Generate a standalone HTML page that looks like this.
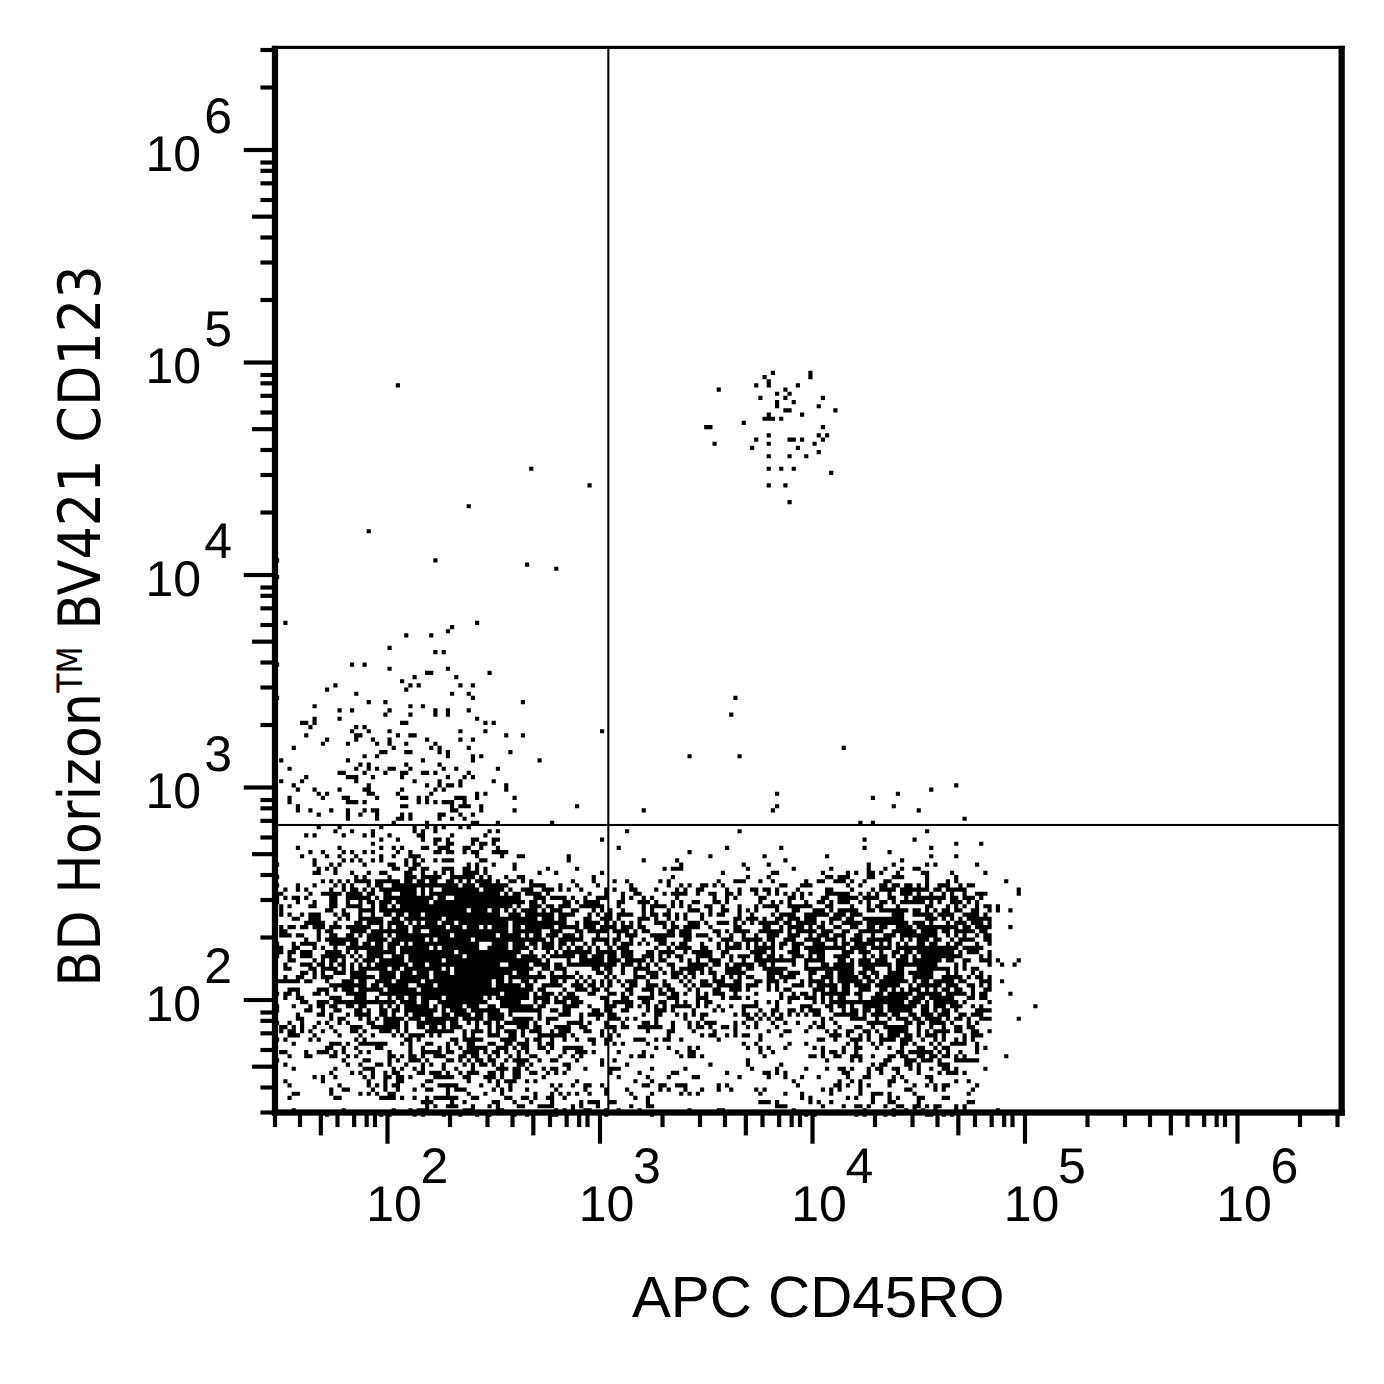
<!DOCTYPE html>
<html lang="en">
<head>
<meta charset="utf-8">
<title>BD Horizon BV421 CD123 vs APC CD45RO</title>
<style>
html,body{margin:0;padding:0;background:#fff;}
body{width:1384px;height:1384px;overflow:hidden;}
svg{display:block;}
text{text-rendering:geometricPrecision;}
.tl text{font-family:"Liberation Sans",Arial,Helvetica,sans-serif;font-size:50px;fill:#000;}
.xt{font-family:"Liberation Sans",Arial,Helvetica,sans-serif;font-size:58.33px;fill:#000;}
.yt{font-family:"DejaVu Sans Condensed","DejaVu Sans",Verdana,sans-serif;font-stretch:condensed;font-size:58.33px;fill:#000;}
</style>
</head>
<body>
<svg width="1384" height="1384" viewBox="0 0 1384 1384">
<rect width="1384" height="1384" fill="#fff"/>
<g transform="scale(4.166667)" fill="#000"><path d="M185 89h1v1h-1zM194 89h1v1h-1zM183 90h1v1h-1zM194 90h1v1h-1zM184 91h1v1h-1zM95 92h1v1h-1zM181 92h1v1h-1zM184 92h1v1h-1zM191 92h1v1h-1zM172 93h1v1h-1zM188 93h1v1h-1zM186 94h1v1h-1zM189 94h1v1h-1zM182 95h1v1h-1zM188 95h1v1h-1zM197 95h1v1h-1zM186 96h1v1h-1zM190 96h1v1h-1zM186 97h1v1h-1zM196 97h1v1h-1zM188 98h2v1h-2zM200 98h1v1h-1zM184 99h1v1h-1zM192 99h1v1h-1zM183 100h3v1h-3zM187 100h1v1h-1zM178 101h1v1h-1zM169 102h2v1h-2zM197 102h1v1h-1zM184 104h1v1h-1zM196 104h1v1h-1zM198 104h1v1h-1zM181 105h1v1h-1zM189 105h2v1h-2zM192 105h1v1h-1zM197 105h1v1h-1zM171 106h1v1h-1zM184 106h1v1h-1zM195 106h1v1h-1zM180 107h1v1h-1zM191 107h1v1h-1zM196 108h1v1h-1zM184 109h1v1h-1zM189 109h1v1h-1zM193 109h1v1h-1zM127 112h1v1h-1zM184 112h1v1h-1zM187 112h1v1h-1zM190 112h1v1h-1zM199 113h1v1h-1zM141 116h1v1h-1zM184 116h1v1h-1zM188 116h1v1h-1zM189 120h1v1h-1zM112 121h1v1h-1zM88 127h1v1h-1zM66 134h1v1h-1zM104 134h1v1h-1zM126 135h1v1h-1zM133 136h1v1h-1zM66 138h1v1h-1zM68 149h1v1h-1zM114 149h1v1h-1zM108 150h1v1h-1zM107 151h1v1h-1zM97 152h1v1h-1zM103 152h1v1h-1zM93 155h1v1h-1zM104 156h1v1h-1zM106 156h1v1h-1zM66 159h1v1h-1zM84 159h1v1h-1zM87 159h1v1h-1zM93 160h1v1h-1zM107 160h1v1h-1zM102 161h2v1h-2zM117 161h1v1h-1zM99 162h1v1h-1zM109 162h1v1h-1zM96 163h1v1h-1zM80 164h1v1h-1zM98 164h1v1h-1zM100 164h1v1h-1zM110 164h1v1h-1zM113 164h1v1h-1zM78 165h1v1h-1zM97 165h1v1h-1zM85 166h1v1h-1zM108 166h1v1h-1zM112 166h1v1h-1zM66 167h1v1h-1zM113 167h1v1h-1zM176 167h1v1h-1zM88 168h1v1h-1zM92 168h1v1h-1zM125 168h1v1h-1zM75 169h1v1h-1zM98 169h1v1h-1zM101 169h1v1h-1zM81 170h1v1h-1zM84 170h1v1h-1zM93 170h1v1h-1zM104 170h1v1h-1zM107 170h1v1h-1zM112 170h1v1h-1zM92 171h1v1h-1zM98 171h1v1h-1zM104 171h1v1h-1zM107 171h1v1h-1zM175 171h1v1h-1zM75 172h1v1h-1zM81 172h1v1h-1zM114 172h1v1h-1zM72 173h2v1h-2zM75 173h1v1h-1zM96 173h2v1h-2zM116 173h1v1h-1zM118 173h1v1h-1zM74 174h1v1h-1zM85 174h1v1h-1zM87 174h1v1h-1zM84 175h1v1h-1zM88 175h1v1h-1zM93 175h1v1h-1zM110 175h1v1h-1zM116 175h1v1h-1zM144 175h1v1h-1zM73 176h1v1h-1zM85 176h2v1h-2zM95 176h1v1h-1zM98 176h2v1h-2zM121 176h1v1h-1zM125 176h1v1h-1zM78 177h1v1h-1zM85 177h1v1h-1zM89 177h1v1h-1zM93 177h1v1h-1zM102 177h1v1h-1zM110 177h1v1h-1zM113 177h1v1h-1zM77 178h1v1h-1zM83 178h1v1h-1zM90 178h1v1h-1zM93 178h1v1h-1zM97 178h1v1h-1zM104 178h1v1h-1zM70 179h1v1h-1zM94 179h1v1h-1zM103 179h1v1h-1zM105 179h1v1h-1zM112 179h1v1h-1zM202 179h1v1h-1zM91 180h2v1h-2zM97 180h2v1h-2zM105 180h1v1h-1zM107 180h1v1h-1zM122 180h1v1h-1zM87 181h1v1h-1zM90 181h1v1h-1zM107 181h1v1h-1zM113 181h1v1h-1zM115 181h1v1h-1zM165 181h1v1h-1zM177 181h1v1h-1zM67 182h1v1h-1zM83 182h1v1h-1zM101 182h1v1h-1zM113 182h1v1h-1zM129 182h1v1h-1zM86 183h1v1h-1zM88 183h1v1h-1zM97 183h1v1h-1zM105 183h1v1h-1zM69 184h1v1h-1zM85 184h1v1h-1zM88 184h1v1h-1zM90 184h1v1h-1zM93 184h2v1h-2zM98 184h1v1h-1zM106 184h1v1h-1zM109 184h1v1h-1zM119 184h1v1h-1zM81 185h2v1h-2zM87 185h1v1h-1zM92 185h1v1h-1zM96 185h2v1h-2zM101 185h2v1h-2zM104 185h1v1h-1zM112 185h1v1h-1zM73 186h1v1h-1zM83 186h3v1h-3zM89 186h1v1h-1zM96 186h1v1h-1zM107 186h1v1h-1zM111 186h1v1h-1zM113 186h1v1h-1zM67 187h1v1h-1zM72 187h1v1h-1zM85 187h1v1h-1zM99 187h1v1h-1zM105 187h1v1h-1zM110 187h1v1h-1zM118 187h1v1h-1zM70 188h1v1h-1zM88 188h1v1h-1zM102 188h1v1h-1zM105 188h1v1h-1zM107 188h2v1h-2zM110 188h1v1h-1zM121 188h1v1h-1zM229 188h1v1h-1zM71 189h1v1h-1zM75 189h1v1h-1zM81 189h1v1h-1zM87 189h2v1h-2zM96 189h1v1h-1zM104 189h1v1h-1zM106 189h1v1h-1zM121 189h1v1h-1zM223 189h1v1h-1zM76 190h1v1h-1zM78 190h1v1h-1zM88 190h2v1h-2zM95 190h1v1h-1zM103 190h1v1h-1zM114 190h1v1h-1zM116 190h1v1h-1zM186 190h1v1h-1zM215 190h1v1h-1zM69 191h1v1h-1zM77 191h1v1h-1zM82 191h2v1h-2zM90 191h1v1h-1zM96 191h2v1h-2zM100 191h1v1h-1zM102 191h1v1h-1zM109 191h3v1h-3zM114 191h1v1h-1zM123 191h1v1h-1zM209 191h1v1h-1zM69 192h1v1h-1zM83 192h3v1h-3zM87 192h1v1h-1zM100 192h1v1h-1zM102 192h1v1h-1zM104 192h1v1h-1zM106 192h3v1h-3zM111 192h1v1h-1zM71 193h1v1h-1zM96 193h2v1h-2zM108 193h1v1h-1zM110 193h3v1h-3zM115 193h1v1h-1zM138 193h1v1h-1zM186 193h1v1h-1zM214 193h1v1h-1zM71 194h1v1h-1zM74 194h1v1h-1zM79 194h1v1h-1zM83 194h1v1h-1zM87 194h1v1h-1zM89 194h2v1h-2zM108 194h2v1h-2zM115 194h1v1h-1zM123 194h1v1h-1zM154 194h1v1h-1zM185 194h1v1h-1zM220 194h1v1h-1zM76 195h1v1h-1zM83 195h1v1h-1zM86 195h1v1h-1zM90 195h1v1h-1zM96 195h1v1h-1zM98 195h1v1h-1zM105 195h2v1h-2zM110 195h1v1h-1zM113 195h1v1h-1zM83 196h1v1h-1zM90 196h1v1h-1zM95 196h2v1h-2zM98 196h1v1h-1zM105 196h1v1h-1zM108 196h1v1h-1zM111 196h1v1h-1zM231 196h1v1h-1zM94 197h1v1h-1zM102 197h1v1h-1zM113 197h2v1h-2zM119 197h1v1h-1zM132 197h1v1h-1zM206 197h1v1h-1zM209 197h1v1h-1zM76 198h1v1h-1zM81 198h1v1h-1zM91 198h1v1h-1zM99 198h1v1h-1zM102 198h1v1h-1zM104 198h1v1h-1zM106 198h1v1h-1zM110 198h1v1h-1zM112 198h1v1h-1zM80 199h1v1h-1zM84 199h1v1h-1zM89 199h1v1h-1zM99 199h1v1h-1zM101 199h1v1h-1zM104 199h1v1h-1zM117 199h1v1h-1zM119 199h1v1h-1zM150 199h1v1h-1zM177 199h1v1h-1zM222 199h1v1h-1zM73 200h1v1h-1zM75 200h1v1h-1zM82 200h1v1h-1zM87 200h1v1h-1zM89 200h1v1h-1zM93 200h1v1h-1zM100 200h2v1h-2zM108 200h1v1h-1zM116 200h1v1h-1zM91 201h1v1h-1zM95 201h1v1h-1zM101 201h1v1h-1zM104 201h2v1h-2zM107 201h1v1h-1zM113 201h2v1h-2zM118 201h2v1h-2zM144 201h1v1h-1zM207 201h1v1h-1zM219 201h1v1h-1zM89 202h1v1h-1zM104 202h1v1h-1zM107 202h2v1h-2zM113 202h1v1h-1zM115 202h2v1h-2zM118 202h1v1h-1zM229 202h1v1h-1zM235 202h1v1h-1zM71 203h1v1h-1zM81 203h1v1h-1zM91 203h1v1h-1zM94 203h1v1h-1zM96 203h1v1h-1zM101 203h2v1h-2zM105 203h3v1h-3zM111 203h2v1h-2zM115 203h1v1h-1zM119 203h1v1h-1zM148 203h1v1h-1zM174 203h1v1h-1zM187 203h1v1h-1zM207 203h1v1h-1zM223 203h1v1h-1zM74 204h1v1h-1zM77 204h1v1h-1zM82 204h1v1h-1zM84 204h1v1h-1zM87 204h1v1h-1zM89 204h1v1h-1zM95 204h1v1h-1zM98 204h1v1h-1zM104 204h2v1h-2zM107 204h2v1h-2zM111 204h1v1h-1zM113 204h2v1h-2zM118 204h4v1h-4zM165 204h1v1h-1zM213 204h1v1h-1zM72 205h1v1h-1zM78 205h1v1h-1zM81 205h1v1h-1zM85 205h1v1h-1zM91 205h1v1h-1zM94 205h1v1h-1zM98 205h3v1h-3zM114 205h1v1h-1zM120 205h1v1h-1zM124 205h2v1h-2zM136 205h1v1h-1zM170 205h1v1h-1zM183 205h1v1h-1zM198 205h1v1h-1zM223 205h1v1h-1zM229 205h1v1h-1zM75 206h1v1h-1zM82 206h1v1h-1zM84 206h1v1h-1zM86 206h1v1h-1zM89 206h1v1h-1zM91 206h1v1h-1zM97 206h1v1h-1zM99 206h1v1h-1zM101 206h1v1h-1zM104 206h1v1h-1zM106 206h3v1h-3zM115 206h2v1h-2zM136 206h1v1h-1zM154 206h1v1h-1zM162 206h1v1h-1zM188 206h1v1h-1zM216 206h1v1h-1zM66 207h1v1h-1zM75 207h1v1h-1zM79 207h1v1h-1zM81 207h1v1h-1zM87 207h1v1h-1zM93 207h2v1h-2zM97 207h1v1h-1zM99 207h2v1h-2zM112 207h1v1h-1zM114 207h1v1h-1zM118 207h1v1h-1zM123 207h1v1h-1zM163 207h1v1h-1zM178 207h1v1h-1zM184 207h1v1h-1zM208 207h1v1h-1zM214 207h1v1h-1zM222 207h1v1h-1zM224 207h1v1h-1zM234 207h1v1h-1zM76 208h1v1h-1zM78 208h1v1h-1zM80 208h1v1h-1zM94 208h2v1h-2zM98 208h2v1h-2zM101 208h2v1h-2zM106 208h3v1h-3zM111 208h2v1h-2zM114 208h1v1h-1zM116 208h1v1h-1zM123 208h1v1h-1zM131 208h1v1h-1zM138 208h1v1h-1zM159 208h1v1h-1zM161 208h3v1h-3zM179 208h1v1h-1zM190 208h1v1h-1zM199 208h1v1h-1zM208 208h1v1h-1zM212 208h1v1h-1zM216 208h1v1h-1zM219 208h2v1h-2zM75 209h2v1h-2zM80 209h1v1h-1zM84 209h1v1h-1zM88 209h1v1h-1zM91 209h2v1h-2zM97 209h2v1h-2zM101 209h1v1h-1zM104 209h1v1h-1zM106 209h1v1h-1zM108 209h1v1h-1zM111 209h4v1h-4zM116 209h1v1h-1zM129 209h1v1h-1zM133 209h1v1h-1zM144 209h1v1h-1zM173 209h1v1h-1zM185 209h2v1h-2zM197 209h1v1h-1zM203 209h1v1h-1zM205 209h1v1h-1zM208 209h2v1h-2zM211 209h1v1h-1zM215 209h1v1h-1zM221 209h2v1h-2zM228 209h1v1h-1zM236 209h1v1h-1zM66 210h1v1h-1zM85 210h1v1h-1zM87 210h1v1h-1zM93 210h1v1h-1zM97 210h3v1h-3zM101 210h5v1h-5zM108 210h6v1h-6zM115 210h1v1h-1zM117 210h1v1h-1zM121 210h1v1h-1zM124 210h2v1h-2zM142 210h1v1h-1zM161 210h1v1h-1zM179 210h1v1h-1zM184 210h1v1h-1zM198 210h2v1h-2zM201 210h3v1h-3zM208 210h2v1h-2zM214 210h3v1h-3zM222 210h1v1h-1zM229 210h1v1h-1zM77 211h1v1h-1zM79 211h1v1h-1zM81 211h1v1h-1zM83 211h1v1h-1zM85 211h4v1h-4zM90 211h6v1h-6zM97 211h2v1h-2zM100 211h2v1h-2zM103 211h2v1h-2zM107 211h2v1h-2zM110 211h1v1h-1zM112 211h1v1h-1zM114 211h4v1h-4zM119 211h1v1h-1zM122 211h2v1h-2zM125 211h1v1h-1zM127 211h1v1h-1zM137 211h1v1h-1zM142 211h1v1h-1zM147 211h1v1h-1zM150 211h1v1h-1zM158 211h1v1h-1zM160 211h1v1h-1zM172 211h1v1h-1zM176 211h3v1h-3zM182 211h1v1h-1zM185 211h1v1h-1zM193 211h1v1h-1zM196 211h2v1h-2zM200 211h3v1h-3zM204 211h1v1h-1zM207 211h1v1h-1zM212 211h2v1h-2zM222 211h1v1h-1zM227 211h1v1h-1zM229 211h1v1h-1zM241 211h1v1h-1zM66 212h1v1h-1zM71 212h1v1h-1zM75 212h1v1h-1zM80 212h1v1h-1zM82 212h1v1h-1zM84 212h1v1h-1zM88 212h1v1h-1zM90 212h2v1h-2zM94 212h16v1h-16zM111 212h3v1h-3zM115 212h7v1h-7zM127 212h4v1h-4zM134 212h1v1h-1zM138 212h1v1h-1zM143 212h1v1h-1zM151 212h1v1h-1zM160 212h1v1h-1zM163 212h1v1h-1zM165 212h1v1h-1zM168 212h2v1h-2zM171 212h1v1h-1zM173 212h1v1h-1zM187 212h2v1h-2zM192 212h3v1h-3zM203 212h1v1h-1zM206 212h1v1h-1zM211 212h2v1h-2zM214 212h2v1h-2zM217 212h2v1h-2zM220 212h1v1h-1zM222 212h1v1h-1zM225 212h3v1h-3zM230 212h1v1h-1zM232 212h2v1h-2zM68 213h1v1h-1zM71 213h1v1h-1zM73 213h1v1h-1zM79 213h1v1h-1zM82 213h1v1h-1zM84 213h2v1h-2zM87 213h1v1h-1zM89 213h1v1h-1zM91 213h9v1h-9zM101 213h1v1h-1zM103 213h1v1h-1zM106 213h9v1h-9zM116 213h5v1h-5zM122 213h1v1h-1zM125 213h3v1h-3zM130 213h3v1h-3zM134 213h1v1h-1zM136 213h1v1h-1zM139 213h1v1h-1zM145 213h1v1h-1zM147 213h1v1h-1zM151 213h2v1h-2zM157 213h1v1h-1zM162 213h1v1h-1zM164 213h1v1h-1zM167 213h2v1h-2zM174 213h1v1h-1zM177 213h1v1h-1zM180 213h2v1h-2zM183 213h2v1h-2zM186 213h1v1h-1zM191 213h1v1h-1zM198 213h2v1h-2zM204 213h1v1h-1zM209 213h1v1h-1zM211 213h4v1h-4zM216 213h7v1h-7zM224 213h2v1h-2zM227 213h5v1h-5zM244 213h1v1h-1zM66 214h2v1h-2zM74 214h1v1h-1zM77 214h5v1h-5zM83 214h4v1h-4zM88 214h2v1h-2zM92 214h2v1h-2zM96 214h4v1h-4zM101 214h1v1h-1zM103 214h17v1h-17zM121 214h1v1h-1zM123 214h2v1h-2zM126 214h4v1h-4zM131 214h1v1h-1zM141 214h1v1h-1zM145 214h1v1h-1zM149 214h1v1h-1zM152 214h2v1h-2zM159 214h1v1h-1zM161 214h4v1h-4zM167 214h1v1h-1zM170 214h2v1h-2zM174 214h2v1h-2zM177 214h1v1h-1zM181 214h1v1h-1zM184 214h1v1h-1zM186 214h1v1h-1zM188 214h1v1h-1zM190 214h1v1h-1zM192 214h1v1h-1zM194 214h1v1h-1zM198 214h6v1h-6zM206 214h1v1h-1zM208 214h1v1h-1zM210 214h1v1h-1zM213 214h1v1h-1zM216 214h3v1h-3zM220 214h1v1h-1zM223 214h1v1h-1zM226 214h1v1h-1zM228 214h1v1h-1zM231 214h1v1h-1zM234 214h3v1h-3zM244 214h1v1h-1zM66 215h1v1h-1zM68 215h1v1h-1zM70 215h2v1h-2zM73 215h1v1h-1zM79 215h2v1h-2zM83 215h6v1h-6zM90 215h1v1h-1zM92 215h12v1h-12zM105 215h2v1h-2zM109 215h16v1h-16zM128 215h3v1h-3zM132 215h4v1h-4zM137 215h1v1h-1zM140 215h1v1h-1zM143 215h3v1h-3zM149 215h1v1h-1zM151 215h1v1h-1zM154 215h1v1h-1zM156 215h1v1h-1zM162 215h1v1h-1zM171 215h1v1h-1zM174 215h1v1h-1zM176 215h1v1h-1zM182 215h2v1h-2zM189 215h2v1h-2zM192 215h1v1h-1zM197 215h2v1h-2zM201 215h5v1h-5zM207 215h4v1h-4zM213 215h2v1h-2zM217 215h1v1h-1zM219 215h8v1h-8zM228 215h2v1h-2zM231 215h3v1h-3zM235 215h1v1h-1zM66 216h1v1h-1zM71 216h1v1h-1zM75 216h1v1h-1zM79 216h2v1h-2zM83 216h1v1h-1zM86 216h1v1h-1zM88 216h2v1h-2zM91 216h3v1h-3zM95 216h8v1h-8zM104 216h22v1h-22zM127 216h2v1h-2zM130 216h1v1h-1zM135 216h2v1h-2zM138 216h1v1h-1zM140 216h4v1h-4zM148 216h2v1h-2zM153 216h3v1h-3zM157 216h1v1h-1zM161 216h1v1h-1zM163 216h1v1h-1zM166 216h2v1h-2zM171 216h2v1h-2zM174 216h1v1h-1zM182 216h1v1h-1zM185 216h1v1h-1zM187 216h1v1h-1zM189 216h1v1h-1zM193 216h1v1h-1zM196 216h2v1h-2zM199 216h1v1h-1zM201 216h3v1h-3zM206 216h1v1h-1zM208 216h1v1h-1zM211 216h2v1h-2zM214 216h1v1h-1zM216 216h6v1h-6zM223 216h1v1h-1zM225 216h1v1h-1zM228 216h3v1h-3zM232 216h1v1h-1zM234 216h1v1h-1zM67 217h1v1h-1zM69 217h1v1h-1zM74 217h2v1h-2zM79 217h2v1h-2zM83 217h4v1h-4zM89 217h1v1h-1zM91 217h2v1h-2zM94 217h1v1h-1zM96 217h27v1h-27zM124 217h1v1h-1zM127 217h3v1h-3zM131 217h2v1h-2zM134 217h3v1h-3zM139 217h6v1h-6zM148 217h1v1h-1zM154 217h1v1h-1zM156 217h4v1h-4zM161 217h1v1h-1zM163 217h1v1h-1zM165 217h1v1h-1zM169 217h2v1h-2zM173 217h1v1h-1zM177 217h1v1h-1zM181 217h1v1h-1zM183 217h4v1h-4zM189 217h6v1h-6zM198 217h2v1h-2zM204 217h1v1h-1zM208 217h1v1h-1zM210 217h2v1h-2zM215 217h1v1h-1zM222 217h2v1h-2zM227 217h1v1h-1zM229 217h1v1h-1zM231 217h1v1h-1zM234 217h1v1h-1zM236 217h2v1h-2zM239 217h1v1h-1zM67 218h1v1h-1zM78 218h2v1h-2zM82 218h1v1h-1zM86 218h4v1h-4zM91 218h21v1h-21zM113 218h4v1h-4zM118 218h2v1h-2zM121 218h1v1h-1zM123 218h1v1h-1zM125 218h4v1h-4zM130 218h1v1h-1zM132 218h3v1h-3zM137 218h2v1h-2zM142 218h1v1h-1zM144 218h1v1h-1zM146 218h1v1h-1zM149 218h1v1h-1zM154 218h1v1h-1zM156 218h1v1h-1zM160 218h1v1h-1zM165 218h3v1h-3zM170 218h1v1h-1zM173 218h2v1h-2zM177 218h1v1h-1zM179 218h1v1h-1zM181 218h1v1h-1zM186 218h1v1h-1zM190 218h2v1h-2zM195 218h3v1h-3zM199 218h1v1h-1zM201 218h5v1h-5zM208 218h2v1h-2zM211 218h7v1h-7zM219 218h2v1h-2zM222 218h1v1h-1zM224 218h1v1h-1zM226 218h2v1h-2zM229 218h2v1h-2zM233 218h2v1h-2zM237 218h1v1h-1zM239 218h1v1h-1zM242 218h1v1h-1zM67 219h1v1h-1zM69 219h1v1h-1zM72 219h1v1h-1zM74 219h3v1h-3zM80 219h1v1h-1zM82 219h2v1h-2zM86 219h1v1h-1zM89 219h1v1h-1zM92 219h2v1h-2zM95 219h2v1h-2zM98 219h3v1h-3zM102 219h18v1h-18zM122 219h3v1h-3zM126 219h7v1h-7zM134 219h4v1h-4zM141 219h1v1h-1zM143 219h1v1h-1zM145 219h2v1h-2zM148 219h4v1h-4zM154 219h1v1h-1zM156 219h2v1h-2zM159 219h2v1h-2zM162 219h1v1h-1zM164 219h1v1h-1zM168 219h1v1h-1zM170 219h1v1h-1zM172 219h2v1h-2zM177 219h1v1h-1zM180 219h1v1h-1zM185 219h1v1h-1zM187 219h4v1h-4zM193 219h6v1h-6zM200 219h3v1h-3zM204 219h3v1h-3zM214 219h3v1h-3zM219 219h5v1h-5zM225 219h4v1h-4zM231 219h4v1h-4zM236 219h1v1h-1zM70 220h2v1h-2zM74 220h3v1h-3zM81 220h1v1h-1zM83 220h1v1h-1zM86 220h6v1h-6zM94 220h2v1h-2zM97 220h9v1h-9zM107 220h22v1h-22zM130 220h3v1h-3zM134 220h2v1h-2zM140 220h2v1h-2zM144 220h3v1h-3zM148 220h1v1h-1zM153 220h3v1h-3zM157 220h1v1h-1zM160 220h1v1h-1zM162 220h1v1h-1zM164 220h1v1h-1zM168 220h1v1h-1zM176 220h2v1h-2zM179 220h3v1h-3zM183 220h1v1h-1zM186 220h2v1h-2zM189 220h3v1h-3zM193 220h3v1h-3zM199 220h3v1h-3zM203 220h2v1h-2zM207 220h10v1h-10zM222 220h3v1h-3zM226 220h1v1h-1zM228 220h1v1h-1zM230 220h1v1h-1zM232 220h6v1h-6zM73 221h5v1h-5zM80 221h1v1h-1zM85 221h2v1h-2zM88 221h4v1h-4zM93 221h4v1h-4zM98 221h1v1h-1zM100 221h1v1h-1zM102 221h3v1h-3zM106 221h3v1h-3zM110 221h12v1h-12zM123 221h13v1h-13zM138 221h1v1h-1zM140 221h4v1h-4zM145 221h1v1h-1zM147 221h1v1h-1zM149 221h1v1h-1zM151 221h1v1h-1zM153 221h1v1h-1zM157 221h3v1h-3zM161 221h1v1h-1zM165 221h3v1h-3zM169 221h1v1h-1zM172 221h3v1h-3zM176 221h1v1h-1zM178 221h1v1h-1zM180 221h1v1h-1zM182 221h5v1h-5zM188 221h2v1h-2zM191 221h5v1h-5zM197 221h1v1h-1zM199 221h1v1h-1zM202 221h5v1h-5zM208 221h10v1h-10zM219 221h3v1h-3zM223 221h1v1h-1zM227 221h1v1h-1zM229 221h3v1h-3zM233 221h3v1h-3zM237 221h1v1h-1zM67 222h1v1h-1zM69 222h2v1h-2zM72 222h2v1h-2zM75 222h3v1h-3zM79 222h3v1h-3zM83 222h6v1h-6zM91 222h1v1h-1zM93 222h1v1h-1zM95 222h3v1h-3zM99 222h8v1h-8zM108 222h3v1h-3zM112 222h3v1h-3zM116 222h1v1h-1zM118 222h4v1h-4zM123 222h2v1h-2zM126 222h7v1h-7zM134 222h5v1h-5zM140 222h3v1h-3zM144 222h4v1h-4zM149 222h3v1h-3zM153 222h2v1h-2zM159 222h1v1h-1zM161 222h2v1h-2zM164 222h4v1h-4zM170 222h1v1h-1zM176 222h2v1h-2zM183 222h2v1h-2zM187 222h1v1h-1zM189 222h4v1h-4zM194 222h1v1h-1zM196 222h2v1h-2zM200 222h2v1h-2zM204 222h2v1h-2zM208 222h2v1h-2zM211 222h2v1h-2zM215 222h4v1h-4zM220 222h10v1h-10zM231 222h2v1h-2zM234 222h4v1h-4zM242 222h1v1h-1zM67 223h2v1h-2zM76 223h1v1h-1zM78 223h2v1h-2zM84 223h4v1h-4zM89 223h9v1h-9zM99 223h2v1h-2zM103 223h19v1h-19zM123 223h7v1h-7zM132 223h3v1h-3zM138 223h2v1h-2zM141 223h5v1h-5zM147 223h4v1h-4zM152 223h1v1h-1zM154 223h2v1h-2zM160 223h2v1h-2zM163 223h3v1h-3zM171 223h2v1h-2zM174 223h1v1h-1zM176 223h4v1h-4zM182 223h6v1h-6zM189 223h1v1h-1zM191 223h5v1h-5zM197 223h3v1h-3zM202 223h2v1h-2zM206 223h6v1h-6zM214 223h6v1h-6zM221 223h4v1h-4zM226 223h2v1h-2zM229 223h5v1h-5zM235 223h2v1h-2zM67 224h3v1h-3zM71 224h2v1h-2zM76 224h1v1h-1zM79 224h2v1h-2zM83 224h2v1h-2zM86 224h1v1h-1zM88 224h4v1h-4zM93 224h1v1h-1zM95 224h13v1h-13zM109 224h10v1h-10zM120 224h5v1h-5zM126 224h1v1h-1zM128 224h2v1h-2zM131 224h3v1h-3zM135 224h3v1h-3zM139 224h1v1h-1zM143 224h1v1h-1zM148 224h1v1h-1zM150 224h3v1h-3zM156 224h6v1h-6zM163 224h3v1h-3zM167 224h3v1h-3zM172 224h1v1h-1zM175 224h1v1h-1zM178 224h1v1h-1zM181 224h1v1h-1zM184 224h3v1h-3zM189 224h3v1h-3zM194 224h1v1h-1zM196 224h3v1h-3zM200 224h3v1h-3zM205 224h2v1h-2zM209 224h1v1h-1zM212 224h3v1h-3zM216 224h9v1h-9zM227 224h1v1h-1zM229 224h1v1h-1zM231 224h1v1h-1zM234 224h1v1h-1zM236 224h2v1h-2zM73 225h1v1h-1zM76 225h1v1h-1zM78 225h8v1h-8zM88 225h5v1h-5zM94 225h8v1h-8zM103 225h1v1h-1zM105 225h8v1h-8zM114 225h17v1h-17zM132 225h1v1h-1zM134 225h6v1h-6zM142 225h4v1h-4zM147 225h2v1h-2zM151 225h1v1h-1zM154 225h1v1h-1zM157 225h3v1h-3zM164 225h2v1h-2zM170 225h1v1h-1zM173 225h3v1h-3zM178 225h5v1h-5zM184 225h2v1h-2zM188 225h3v1h-3zM193 225h4v1h-4zM198 225h3v1h-3zM202 225h1v1h-1zM204 225h3v1h-3zM208 225h6v1h-6zM216 225h1v1h-1zM218 225h1v1h-1zM220 225h3v1h-3zM224 225h2v1h-2zM228 225h1v1h-1zM230 225h4v1h-4zM236 225h2v1h-2zM66 226h1v1h-1zM70 226h1v1h-1zM72 226h4v1h-4zM79 226h4v1h-4zM84 226h2v1h-2zM87 226h2v1h-2zM90 226h2v1h-2zM93 226h3v1h-3zM97 226h1v1h-1zM99 226h16v1h-16zM118 226h4v1h-4zM123 226h3v1h-3zM127 226h2v1h-2zM130 226h3v1h-3zM134 226h2v1h-2zM137 226h1v1h-1zM140 226h1v1h-1zM142 226h1v1h-1zM145 226h1v1h-1zM147 226h1v1h-1zM149 226h3v1h-3zM153 226h1v1h-1zM155 226h1v1h-1zM158 226h2v1h-2zM161 226h1v1h-1zM163 226h2v1h-2zM168 226h1v1h-1zM172 226h1v1h-1zM174 226h1v1h-1zM176 226h2v1h-2zM179 226h1v1h-1zM181 226h1v1h-1zM183 226h1v1h-1zM185 226h1v1h-1zM187 226h2v1h-2zM190 226h3v1h-3zM195 226h3v1h-3zM200 226h1v1h-1zM202 226h2v1h-2zM205 226h5v1h-5zM211 226h1v1h-1zM213 226h1v1h-1zM215 226h1v1h-1zM217 226h1v1h-1zM220 226h2v1h-2zM223 226h2v1h-2zM227 226h1v1h-1zM229 226h2v1h-2zM234 226h1v1h-1zM237 226h1v1h-1zM66 227h2v1h-2zM70 227h2v1h-2zM75 227h1v1h-1zM77 227h1v1h-1zM80 227h1v1h-1zM83 227h9v1h-9zM93 227h2v1h-2zM96 227h7v1h-7zM104 227h1v1h-1zM106 227h9v1h-9zM117 227h5v1h-5zM123 227h4v1h-4zM128 227h1v1h-1zM130 227h3v1h-3zM134 227h1v1h-1zM136 227h1v1h-1zM138 227h2v1h-2zM141 227h1v1h-1zM143 227h1v1h-1zM146 227h1v1h-1zM148 227h3v1h-3zM157 227h1v1h-1zM160 227h1v1h-1zM162 227h4v1h-4zM168 227h2v1h-2zM172 227h1v1h-1zM174 227h4v1h-4zM179 227h1v1h-1zM181 227h5v1h-5zM187 227h1v1h-1zM190 227h2v1h-2zM193 227h10v1h-10zM204 227h4v1h-4zM209 227h5v1h-5zM215 227h15v1h-15zM231 227h5v1h-5zM66 228h2v1h-2zM69 228h2v1h-2zM72 228h3v1h-3zM78 228h4v1h-4zM83 228h1v1h-1zM85 228h1v1h-1zM88 228h7v1h-7zM96 228h13v1h-13zM110 228h15v1h-15zM127 228h1v1h-1zM131 228h1v1h-1zM133 228h1v1h-1zM135 228h7v1h-7zM143 228h5v1h-5zM149 228h3v1h-3zM155 228h2v1h-2zM158 228h4v1h-4zM164 228h1v1h-1zM166 228h5v1h-5zM173 228h2v1h-2zM180 228h4v1h-4zM185 228h1v1h-1zM189 228h3v1h-3zM194 228h4v1h-4zM202 228h3v1h-3zM206 228h3v1h-3zM211 228h1v1h-1zM214 228h2v1h-2zM217 228h2v1h-2zM220 228h9v1h-9zM230 228h1v1h-1zM232 228h3v1h-3zM237 228h1v1h-1zM66 229h1v1h-1zM69 229h1v1h-1zM72 229h3v1h-3zM77 229h6v1h-6zM84 229h1v1h-1zM86 229h1v1h-1zM88 229h4v1h-4zM94 229h3v1h-3zM98 229h13v1h-13zM112 229h12v1h-12zM125 229h4v1h-4zM130 229h1v1h-1zM132 229h6v1h-6zM139 229h2v1h-2zM142 229h3v1h-3zM146 229h2v1h-2zM149 229h3v1h-3zM154 229h3v1h-3zM158 229h1v1h-1zM160 229h1v1h-1zM162 229h2v1h-2zM167 229h4v1h-4zM173 229h1v1h-1zM175 229h1v1h-1zM177 229h3v1h-3zM181 229h2v1h-2zM184 229h2v1h-2zM187 229h1v1h-1zM190 229h3v1h-3zM194 229h1v1h-1zM196 229h2v1h-2zM200 229h4v1h-4zM207 229h1v1h-1zM209 229h1v1h-1zM211 229h2v1h-2zM214 229h1v1h-1zM216 229h2v1h-2zM219 229h1v1h-1zM221 229h10v1h-10zM235 229h1v1h-1zM237 229h1v1h-1zM69 230h2v1h-2zM75 230h1v1h-1zM77 230h1v1h-1zM79 230h2v1h-2zM82 230h1v1h-1zM85 230h1v1h-1zM87 230h3v1h-3zM91 230h6v1h-6zM98 230h8v1h-8zM107 230h23v1h-23zM131 230h1v1h-1zM136 230h1v1h-1zM139 230h6v1h-6zM146 230h3v1h-3zM150 230h5v1h-5zM156 230h1v1h-1zM158 230h2v1h-2zM163 230h1v1h-1zM165 230h1v1h-1zM167 230h1v1h-1zM170 230h3v1h-3zM175 230h1v1h-1zM178 230h1v1h-1zM181 230h10v1h-10zM193 230h5v1h-5zM201 230h2v1h-2zM204 230h1v1h-1zM206 230h3v1h-3zM210 230h3v1h-3zM215 230h3v1h-3zM219 230h7v1h-7zM227 230h2v1h-2zM231 230h2v1h-2zM235 230h3v1h-3zM239 230h1v1h-1zM244 230h1v1h-1zM68 231h1v1h-1zM72 231h3v1h-3zM76 231h2v1h-2zM79 231h1v1h-1zM81 231h2v1h-2zM84 231h1v1h-1zM86 231h1v1h-1zM88 231h1v1h-1zM90 231h8v1h-8zM99 231h3v1h-3zM103 231h17v1h-17zM122 231h5v1h-5zM128 231h4v1h-4zM133 231h2v1h-2zM136 231h12v1h-12zM149 231h3v1h-3zM153 231h1v1h-1zM155 231h1v1h-1zM157 231h1v1h-1zM160 231h2v1h-2zM165 231h5v1h-5zM171 231h2v1h-2zM174 231h1v1h-1zM176 231h5v1h-5zM182 231h2v1h-2zM185 231h1v1h-1zM190 231h1v1h-1zM193 231h1v1h-1zM197 231h2v1h-2zM200 231h5v1h-5zM206 231h8v1h-8zM215 231h10v1h-10zM229 231h1v1h-1zM231 231h1v1h-1zM237 231h1v1h-1zM240 231h1v1h-1zM243 231h1v1h-1zM68 232h2v1h-2zM74 232h2v1h-2zM77 232h4v1h-4zM82 232h1v1h-1zM84 232h1v1h-1zM86 232h7v1h-7zM94 232h2v1h-2zM97 232h9v1h-9zM107 232h1v1h-1zM109 232h19v1h-19zM130 232h2v1h-2zM133 232h3v1h-3zM142 232h2v1h-2zM145 232h2v1h-2zM149 232h1v1h-1zM152 232h4v1h-4zM158 232h1v1h-1zM161 232h1v1h-1zM163 232h6v1h-6zM170 232h1v1h-1zM174 232h4v1h-4zM179 232h2v1h-2zM183 232h6v1h-6zM193 232h12v1h-12zM207 232h3v1h-3zM213 232h1v1h-1zM215 232h2v1h-2zM220 232h8v1h-8zM229 232h1v1h-1zM231 232h1v1h-1zM233 232h2v1h-2zM72 233h2v1h-2zM75 233h1v1h-1zM77 233h1v1h-1zM80 233h3v1h-3zM84 233h4v1h-4zM91 233h4v1h-4zM96 233h3v1h-3zM100 233h3v1h-3zM104 233h4v1h-4zM109 233h14v1h-14zM124 233h3v1h-3zM129 233h1v1h-1zM132 233h1v1h-1zM135 233h1v1h-1zM138 233h1v1h-1zM143 233h2v1h-2zM146 233h1v1h-1zM149 233h1v1h-1zM152 233h1v1h-1zM155 233h3v1h-3zM159 233h1v1h-1zM161 233h3v1h-3zM165 233h2v1h-2zM168 233h1v1h-1zM170 233h2v1h-2zM174 233h5v1h-5zM184 233h4v1h-4zM189 233h3v1h-3zM194 233h2v1h-2zM198 233h2v1h-2zM201 233h4v1h-4zM206 233h2v1h-2zM209 233h2v1h-2zM213 233h4v1h-4zM218 233h6v1h-6zM227 233h1v1h-1zM229 233h1v1h-1zM233 233h1v1h-1zM235 233h1v1h-1zM68 234h1v1h-1zM71 234h2v1h-2zM75 234h1v1h-1zM77 234h3v1h-3zM84 234h6v1h-6zM91 234h4v1h-4zM96 234h7v1h-7zM104 234h17v1h-17zM122 234h9v1h-9zM132 234h6v1h-6zM139 234h1v1h-1zM141 234h1v1h-1zM145 234h1v1h-1zM147 234h1v1h-1zM152 234h3v1h-3zM156 234h2v1h-2zM161 234h2v1h-2zM164 234h1v1h-1zM166 234h1v1h-1zM171 234h1v1h-1zM173 234h1v1h-1zM175 234h1v1h-1zM177 234h1v1h-1zM179 234h2v1h-2zM184 234h2v1h-2zM187 234h4v1h-4zM194 234h1v1h-1zM197 234h3v1h-3zM201 234h5v1h-5zM207 234h2v1h-2zM210 234h1v1h-1zM212 234h5v1h-5zM219 234h5v1h-5zM226 234h5v1h-5zM232 234h1v1h-1zM234 234h2v1h-2zM237 234h1v1h-1zM66 235h6v1h-6zM73 235h2v1h-2zM78 235h1v1h-1zM82 235h3v1h-3zM86 235h2v1h-2zM90 235h4v1h-4zM95 235h6v1h-6zM102 235h16v1h-16zM119 235h2v1h-2zM122 235h1v1h-1zM125 235h2v1h-2zM128 235h1v1h-1zM132 235h2v1h-2zM135 235h1v1h-1zM138 235h1v1h-1zM140 235h1v1h-1zM142 235h1v1h-1zM144 235h1v1h-1zM146 235h1v1h-1zM148 235h1v1h-1zM150 235h3v1h-3zM155 235h1v1h-1zM159 235h1v1h-1zM163 235h1v1h-1zM165 235h1v1h-1zM168 235h2v1h-2zM171 235h3v1h-3zM176 235h2v1h-2zM181 235h2v1h-2zM184 235h3v1h-3zM188 235h1v1h-1zM192 235h1v1h-1zM194 235h4v1h-4zM199 235h1v1h-1zM201 235h6v1h-6zM208 235h2v1h-2zM211 235h7v1h-7zM219 235h1v1h-1zM221 235h2v1h-2zM224 235h5v1h-5zM230 235h2v1h-2zM235 235h3v1h-3zM240 235h1v1h-1zM79 236h9v1h-9zM89 236h2v1h-2zM92 236h6v1h-6zM100 236h4v1h-4zM105 236h13v1h-13zM119 236h6v1h-6zM126 236h2v1h-2zM130 236h5v1h-5zM137 236h3v1h-3zM141 236h2v1h-2zM144 236h1v1h-1zM146 236h1v1h-1zM149 236h1v1h-1zM151 236h2v1h-2zM155 236h3v1h-3zM159 236h2v1h-2zM164 236h1v1h-1zM166 236h1v1h-1zM168 236h3v1h-3zM172 236h6v1h-6zM179 236h3v1h-3zM184 236h1v1h-1zM186 236h1v1h-1zM190 236h3v1h-3zM194 236h1v1h-1zM196 236h5v1h-5zM202 236h2v1h-2zM205 236h4v1h-4zM210 236h6v1h-6zM218 236h1v1h-1zM220 236h6v1h-6zM227 236h3v1h-3zM232 236h2v1h-2zM235 236h1v1h-1zM237 236h1v1h-1zM69 237h3v1h-3zM76 237h3v1h-3zM80 237h1v1h-1zM82 237h3v1h-3zM86 237h6v1h-6zM93 237h7v1h-7zM101 237h27v1h-27zM129 237h2v1h-2zM135 237h1v1h-1zM138 237h3v1h-3zM142 237h2v1h-2zM145 237h1v1h-1zM150 237h2v1h-2zM154 237h3v1h-3zM158 237h1v1h-1zM160 237h2v1h-2zM165 237h1v1h-1zM167 237h1v1h-1zM171 237h2v1h-2zM175 237h3v1h-3zM179 237h1v1h-1zM184 237h1v1h-1zM186 237h1v1h-1zM188 237h2v1h-2zM195 237h3v1h-3zM199 237h2v1h-2zM202 237h2v1h-2zM206 237h3v1h-3zM211 237h2v1h-2zM214 237h1v1h-1zM216 237h1v1h-1zM218 237h3v1h-3zM222 237h1v1h-1zM224 237h1v1h-1zM226 237h2v1h-2zM229 237h2v1h-2zM233 237h1v1h-1zM236 237h2v1h-2zM66 238h1v1h-1zM68 238h2v1h-2zM71 238h1v1h-1zM75 238h2v1h-2zM78 238h1v1h-1zM83 238h5v1h-5zM91 238h29v1h-29zM121 238h6v1h-6zM128 238h1v1h-1zM130 238h3v1h-3zM134 238h1v1h-1zM136 238h2v1h-2zM141 238h2v1h-2zM146 238h2v1h-2zM149 238h1v1h-1zM151 238h1v1h-1zM156 238h1v1h-1zM158 238h2v1h-2zM161 238h2v1h-2zM164 238h1v1h-1zM167 238h1v1h-1zM169 238h1v1h-1zM171 238h3v1h-3zM176 238h1v1h-1zM181 238h1v1h-1zM187 238h1v1h-1zM190 238h1v1h-1zM192 238h2v1h-2zM195 238h1v1h-1zM197 238h7v1h-7zM205 238h2v1h-2zM210 238h2v1h-2zM213 238h6v1h-6zM220 238h6v1h-6zM227 238h5v1h-5zM233 238h1v1h-1zM235 238h2v1h-2zM242 238h1v1h-1zM68 239h1v1h-1zM71 239h2v1h-2zM79 239h3v1h-3zM85 239h3v1h-3zM90 239h1v1h-1zM93 239h1v1h-1zM95 239h2v1h-2zM98 239h2v1h-2zM101 239h5v1h-5zM107 239h9v1h-9zM117 239h1v1h-1zM119 239h8v1h-8zM128 239h4v1h-4zM133 239h1v1h-1zM135 239h4v1h-4zM144 239h2v1h-2zM149 239h2v1h-2zM153 239h4v1h-4zM160 239h3v1h-3zM167 239h3v1h-3zM173 239h1v1h-1zM175 239h3v1h-3zM179 239h1v1h-1zM187 239h1v1h-1zM189 239h3v1h-3zM193 239h3v1h-3zM197 239h1v1h-1zM199 239h1v1h-1zM201 239h2v1h-2zM206 239h1v1h-1zM209 239h9v1h-9zM219 239h3v1h-3zM223 239h6v1h-6zM232 239h2v1h-2zM235 239h2v1h-2zM72 240h2v1h-2zM76 240h3v1h-3zM80 240h15v1h-15zM96 240h4v1h-4zM101 240h2v1h-2zM105 240h12v1h-12zM120 240h5v1h-5zM128 240h1v1h-1zM130 240h2v1h-2zM133 240h3v1h-3zM137 240h3v1h-3zM145 240h1v1h-1zM147 240h5v1h-5zM154 240h2v1h-2zM158 240h2v1h-2zM162 240h1v1h-1zM164 240h1v1h-1zM167 240h1v1h-1zM169 240h2v1h-2zM181 240h1v1h-1zM184 240h1v1h-1zM186 240h1v1h-1zM189 240h1v1h-1zM195 240h1v1h-1zM197 240h1v1h-1zM199 240h18v1h-18zM218 240h3v1h-3zM222 240h1v1h-1zM224 240h6v1h-6zM231 240h1v1h-1zM237 240h1v1h-1zM66 241h1v1h-1zM70 241h1v1h-1zM74 241h1v1h-1zM76 241h2v1h-2zM79 241h2v1h-2zM83 241h2v1h-2zM86 241h2v1h-2zM91 241h1v1h-1zM93 241h1v1h-1zM95 241h1v1h-1zM97 241h6v1h-6zM104 241h1v1h-1zM106 241h5v1h-5zM112 241h3v1h-3zM117 241h2v1h-2zM120 241h8v1h-8zM129 241h2v1h-2zM135 241h4v1h-4zM141 241h1v1h-1zM145 241h3v1h-3zM150 241h2v1h-2zM153 241h1v1h-1zM155 241h1v1h-1zM157 241h1v1h-1zM159 241h1v1h-1zM161 241h5v1h-5zM167 241h1v1h-1zM169 241h1v1h-1zM172 241h1v1h-1zM175 241h1v1h-1zM178 241h4v1h-4zM186 241h1v1h-1zM192 241h3v1h-3zM198 241h2v1h-2zM201 241h2v1h-2zM204 241h1v1h-1zM207 241h5v1h-5zM213 241h7v1h-7zM221 241h2v1h-2zM224 241h3v1h-3zM228 241h3v1h-3zM233 241h1v1h-1zM235 241h1v1h-1zM248 241h1v1h-1zM66 242h1v1h-1zM73 242h2v1h-2zM77 242h1v1h-1zM80 242h2v1h-2zM85 242h2v1h-2zM88 242h1v1h-1zM91 242h2v1h-2zM94 242h2v1h-2zM97 242h8v1h-8zM106 242h1v1h-1zM108 242h4v1h-4zM113 242h7v1h-7zM122 242h8v1h-8zM132 242h2v1h-2zM135 242h2v1h-2zM142 242h2v1h-2zM145 242h2v1h-2zM149 242h2v1h-2zM155 242h1v1h-1zM157 242h3v1h-3zM161 242h1v1h-1zM166 242h1v1h-1zM171 242h1v1h-1zM173 242h1v1h-1zM178 242h1v1h-1zM182 242h1v1h-1zM185 242h2v1h-2zM189 242h2v1h-2zM192 242h1v1h-1zM194 242h3v1h-3zM199 242h1v1h-1zM202 242h1v1h-1zM204 242h2v1h-2zM207 242h2v1h-2zM210 242h2v1h-2zM213 242h6v1h-6zM221 242h2v1h-2zM224 242h1v1h-1zM226 242h2v1h-2zM229 242h1v1h-1zM234 242h4v1h-4zM71 243h1v1h-1zM76 243h2v1h-2zM79 243h1v1h-1zM83 243h1v1h-1zM85 243h4v1h-4zM91 243h2v1h-2zM94 243h1v1h-1zM97 243h1v1h-1zM99 243h5v1h-5zM106 243h2v1h-2zM109 243h4v1h-4zM114 243h2v1h-2zM117 243h4v1h-4zM122 243h1v1h-1zM129 243h1v1h-1zM134 243h3v1h-3zM139 243h1v1h-1zM141 243h4v1h-4zM146 243h2v1h-2zM154 243h1v1h-1zM157 243h2v1h-2zM162 243h1v1h-1zM164 243h1v1h-1zM166 243h1v1h-1zM168 243h2v1h-2zM176 243h1v1h-1zM178 243h2v1h-2zM181 243h1v1h-1zM183 243h1v1h-1zM185 243h1v1h-1zM187 243h1v1h-1zM189 243h1v1h-1zM191 243h1v1h-1zM193 243h1v1h-1zM195 243h2v1h-2zM200 243h6v1h-6zM207 243h1v1h-1zM209 243h4v1h-4zM214 243h2v1h-2zM218 243h2v1h-2zM221 243h3v1h-3zM225 243h3v1h-3zM230 243h2v1h-2zM233 243h3v1h-3zM71 244h2v1h-2zM79 244h1v1h-1zM81 244h2v1h-2zM86 244h1v1h-1zM88 244h1v1h-1zM90 244h1v1h-1zM92 244h5v1h-5zM98 244h3v1h-3zM102 244h8v1h-8zM111 244h5v1h-5zM117 244h4v1h-4zM123 244h5v1h-5zM129 244h1v1h-1zM131 244h3v1h-3zM139 244h1v1h-1zM143 244h1v1h-1zM146 244h3v1h-3zM150 244h1v1h-1zM152 244h1v1h-1zM157 244h1v1h-1zM164 244h1v1h-1zM168 244h1v1h-1zM179 244h2v1h-2zM182 244h1v1h-1zM184 244h1v1h-1zM186 244h2v1h-2zM197 244h1v1h-1zM199 244h1v1h-1zM204 244h4v1h-4zM210 244h1v1h-1zM213 244h1v1h-1zM215 244h3v1h-3zM219 244h2v1h-2zM222 244h4v1h-4zM227 244h1v1h-1zM229 244h2v1h-2zM232 244h1v1h-1zM235 244h3v1h-3zM244 244h1v1h-1zM66 245h1v1h-1zM69 245h1v1h-1zM72 245h1v1h-1zM76 245h1v1h-1zM78 245h1v1h-1zM81 245h1v1h-1zM83 245h1v1h-1zM88 245h2v1h-2zM92 245h4v1h-4zM97 245h1v1h-1zM100 245h7v1h-7zM108 245h2v1h-2zM112 245h1v1h-1zM114 245h1v1h-1zM116 245h2v1h-2zM119 245h1v1h-1zM121 245h6v1h-6zM128 245h1v1h-1zM131 245h1v1h-1zM136 245h4v1h-4zM141 245h1v1h-1zM145 245h1v1h-1zM149 245h1v1h-1zM154 245h2v1h-2zM157 245h1v1h-1zM161 245h1v1h-1zM165 245h1v1h-1zM167 245h1v1h-1zM169 245h3v1h-3zM176 245h1v1h-1zM178 245h1v1h-1zM181 245h1v1h-1zM185 245h1v1h-1zM188 245h1v1h-1zM191 245h1v1h-1zM195 245h1v1h-1zM197 245h1v1h-1zM200 245h1v1h-1zM208 245h5v1h-5zM217 245h2v1h-2zM220 245h2v1h-2zM223 245h4v1h-4zM228 245h1v1h-1zM232 245h1v1h-1zM234 245h1v1h-1zM67 246h2v1h-2zM70 246h1v1h-1zM72 246h1v1h-1zM75 246h1v1h-1zM79 246h1v1h-1zM84 246h3v1h-3zM89 246h7v1h-7zM97 246h1v1h-1zM100 246h2v1h-2zM103 246h2v1h-2zM106 246h1v1h-1zM108 246h3v1h-3zM114 246h1v1h-1zM117 246h1v1h-1zM119 246h2v1h-2zM124 246h3v1h-3zM128 246h2v1h-2zM133 246h4v1h-4zM139 246h2v1h-2zM145 246h3v1h-3zM149 246h2v1h-2zM153 246h6v1h-6zM161 246h1v1h-1zM165 246h1v1h-1zM167 246h2v1h-2zM170 246h1v1h-1zM173 246h2v1h-2zM176 246h1v1h-1zM179 246h1v1h-1zM181 246h1v1h-1zM186 246h1v1h-1zM194 246h1v1h-1zM196 246h2v1h-2zM201 246h1v1h-1zM205 246h2v1h-2zM209 246h1v1h-1zM212 246h6v1h-6zM220 246h1v1h-1zM223 246h1v1h-1zM226 246h1v1h-1zM229 246h2v1h-2zM232 246h2v1h-2zM67 247h1v1h-1zM69 247h2v1h-2zM72 247h1v1h-1zM74 247h1v1h-1zM77 247h1v1h-1zM80 247h1v1h-1zM84 247h2v1h-2zM87 247h1v1h-1zM91 247h3v1h-3zM95 247h1v1h-1zM97 247h1v1h-1zM102 247h7v1h-7zM111 247h1v1h-1zM113 247h3v1h-3zM117 247h1v1h-1zM119 247h1v1h-1zM121 247h3v1h-3zM125 247h1v1h-1zM127 247h3v1h-3zM132 247h1v1h-1zM134 247h3v1h-3zM140 247h2v1h-2zM144 247h1v1h-1zM147 247h1v1h-1zM155 247h1v1h-1zM160 247h2v1h-2zM166 247h1v1h-1zM171 247h1v1h-1zM176 247h1v1h-1zM184 247h1v1h-1zM188 247h2v1h-2zM193 247h1v1h-1zM198 247h1v1h-1zM200 247h1v1h-1zM203 247h2v1h-2zM207 247h2v1h-2zM210 247h1v1h-1zM213 247h5v1h-5zM220 247h1v1h-1zM222 247h1v1h-1zM224 247h4v1h-4zM229 247h2v1h-2zM233 247h2v1h-2zM237 247h1v1h-1zM69 248h3v1h-3zM75 248h1v1h-1zM81 248h1v1h-1zM86 248h1v1h-1zM89 248h1v1h-1zM94 248h1v1h-1zM96 248h1v1h-1zM98 248h4v1h-4zM103 248h1v1h-1zM105 248h1v1h-1zM111 248h1v1h-1zM113 248h1v1h-1zM117 248h3v1h-3zM122 248h2v1h-2zM125 248h1v1h-1zM129 248h7v1h-7zM137 248h1v1h-1zM144 248h1v1h-1zM146 248h1v1h-1zM148 248h1v1h-1zM160 248h1v1h-1zM168 248h1v1h-1zM170 248h2v1h-2zM174 248h1v1h-1zM176 248h1v1h-1zM178 248h2v1h-2zM182 248h1v1h-1zM187 248h1v1h-1zM199 248h3v1h-3zM203 248h1v1h-1zM206 248h1v1h-1zM208 248h1v1h-1zM211 248h1v1h-1zM213 248h3v1h-3zM217 248h2v1h-2zM220 248h1v1h-1zM222 248h3v1h-3zM226 248h1v1h-1zM231 248h1v1h-1zM233 248h3v1h-3zM66 249h1v1h-1zM68 249h1v1h-1zM74 249h1v1h-1zM76 249h1v1h-1zM85 249h1v1h-1zM87 249h1v1h-1zM97 249h2v1h-2zM100 249h1v1h-1zM108 249h2v1h-2zM111 249h5v1h-5zM120 249h4v1h-4zM126 249h1v1h-1zM128 249h2v1h-2zM132 249h1v1h-1zM135 249h1v1h-1zM138 249h1v1h-1zM141 249h2v1h-2zM145 249h2v1h-2zM152 249h3v1h-3zM157 249h1v1h-1zM159 249h2v1h-2zM163 249h1v1h-1zM172 249h1v1h-1zM182 249h1v1h-1zM196 249h2v1h-2zM200 249h1v1h-1zM204 249h3v1h-3zM208 249h1v1h-1zM211 249h4v1h-4zM216 249h3v1h-3zM221 249h1v1h-1zM224 249h1v1h-1zM226 249h1v1h-1zM229 249h1v1h-1zM231 249h1v1h-1zM233 249h1v1h-1zM70 250h1v1h-1zM79 250h3v1h-3zM83 250h1v1h-1zM86 250h7v1h-7zM96 250h1v1h-1zM98 250h1v1h-1zM102 250h2v1h-2zM107 250h1v1h-1zM109 250h1v1h-1zM112 250h2v1h-2zM117 250h2v1h-2zM121 250h2v1h-2zM124 250h3v1h-3zM129 250h1v1h-1zM131 250h2v1h-2zM142 250h1v1h-1zM145 250h1v1h-1zM147 250h1v1h-1zM149 250h1v1h-1zM155 250h1v1h-1zM178 250h1v1h-1zM181 250h1v1h-1zM189 250h1v1h-1zM193 250h1v1h-1zM203 250h1v1h-1zM205 250h1v1h-1zM209 250h1v1h-1zM211 250h1v1h-1zM216 250h2v1h-2zM219 250h1v1h-1zM223 250h1v1h-1zM225 250h1v1h-1zM228 250h4v1h-4zM234 250h1v1h-1zM78 251h2v1h-2zM82 251h1v1h-1zM85 251h1v1h-1zM90 251h2v1h-2zM98 251h1v1h-1zM101 251h1v1h-1zM105 251h1v1h-1zM107 251h1v1h-1zM110 251h1v1h-1zM112 251h5v1h-5zM119 251h3v1h-3zM123 251h1v1h-1zM125 251h2v1h-2zM129 251h2v1h-2zM132 251h1v1h-1zM135 251h5v1h-5zM157 251h1v1h-1zM160 251h1v1h-1zM165 251h1v1h-1zM167 251h1v1h-1zM179 251h1v1h-1zM182 251h1v1h-1zM184 251h1v1h-1zM188 251h1v1h-1zM195 251h1v1h-1zM197 251h1v1h-1zM202 251h1v1h-1zM205 251h2v1h-2zM210 251h1v1h-1zM213 251h1v1h-1zM216 251h1v1h-1zM220 251h2v1h-2zM224 251h1v1h-1zM226 251h2v1h-2zM234 251h1v1h-1zM236 251h1v1h-1zM67 252h2v1h-2zM73 252h1v1h-1zM76 252h3v1h-3zM80 252h1v1h-1zM82 252h1v1h-1zM86 252h1v1h-1zM88 252h1v1h-1zM93 252h1v1h-1zM98 252h1v1h-1zM101 252h5v1h-5zM107 252h2v1h-2zM111 252h4v1h-4zM116 252h1v1h-1zM118 252h2v1h-2zM121 252h1v1h-1zM124 252h1v1h-1zM126 252h1v1h-1zM131 252h1v1h-1zM135 252h1v1h-1zM138 252h3v1h-3zM142 252h1v1h-1zM148 252h1v1h-1zM154 252h1v1h-1zM162 252h1v1h-1zM165 252h2v1h-2zM182 252h1v1h-1zM185 252h1v1h-1zM197 252h1v1h-1zM199 252h2v1h-2zM202 252h1v1h-1zM205 252h1v1h-1zM215 252h2v1h-2zM218 252h6v1h-6zM225 252h1v1h-1zM227 252h1v1h-1zM230 252h1v1h-1zM234 252h1v1h-1zM69 253h1v1h-1zM73 253h2v1h-2zM79 253h2v1h-2zM83 253h1v1h-1zM85 253h1v1h-1zM93 253h2v1h-2zM96 253h1v1h-1zM98 253h2v1h-2zM101 253h1v1h-1zM104 253h3v1h-3zM110 253h2v1h-2zM113 253h2v1h-2zM117 253h1v1h-1zM119 253h1v1h-1zM122 253h1v1h-1zM124 253h1v1h-1zM127 253h2v1h-2zM134 253h1v1h-1zM137 253h1v1h-1zM139 253h1v1h-1zM151 253h1v1h-1zM153 253h2v1h-2zM156 253h1v1h-1zM163 253h1v1h-1zM165 253h2v1h-2zM168 253h1v1h-1zM183 253h1v1h-1zM194 253h2v1h-2zM197 253h1v1h-1zM200 253h2v1h-2zM204 253h3v1h-3zM209 253h1v1h-1zM213 253h2v1h-2zM216 253h2v1h-2zM220 253h2v1h-2zM223 253h2v1h-2zM226 253h2v1h-2zM229 253h1v1h-1zM231 253h1v1h-1zM241 253h1v1h-1zM66 254h1v1h-1zM82 254h1v1h-1zM87 254h2v1h-2zM93 254h1v1h-1zM95 254h1v1h-1zM98 254h3v1h-3zM102 254h1v1h-1zM107 254h2v1h-2zM110 254h1v1h-1zM112 254h1v1h-1zM114 254h2v1h-2zM117 254h2v1h-2zM121 254h1v1h-1zM123 254h4v1h-4zM129 254h1v1h-1zM132 254h2v1h-2zM138 254h1v1h-1zM144 254h1v1h-1zM147 254h1v1h-1zM179 254h1v1h-1zM198 254h1v1h-1zM204 254h1v1h-1zM206 254h1v1h-1zM212 254h2v1h-2zM217 254h3v1h-3zM221 254h3v1h-3zM225 254h1v1h-1zM229 254h6v1h-6zM68 255h1v1h-1zM83 255h1v1h-1zM86 255h1v1h-1zM90 255h2v1h-2zM93 255h1v1h-1zM97 255h1v1h-1zM101 255h1v1h-1zM103 255h1v1h-1zM106 255h1v1h-1zM111 255h1v1h-1zM113 255h1v1h-1zM115 255h2v1h-2zM118 255h1v1h-1zM120 255h1v1h-1zM124 255h2v1h-2zM127 255h1v1h-1zM135 255h2v1h-2zM144 255h1v1h-1zM150 255h1v1h-1zM170 255h1v1h-1zM179 255h1v1h-1zM187 255h1v1h-1zM209 255h1v1h-1zM211 255h2v1h-2zM217 255h2v1h-2zM220 255h1v1h-1zM225 255h3v1h-3zM70 256h1v1h-1zM80 256h1v1h-1zM87 256h3v1h-3zM94 256h1v1h-1zM96 256h1v1h-1zM99 256h1v1h-1zM101 256h1v1h-1zM106 256h1v1h-1zM109 256h1v1h-1zM113 256h1v1h-1zM119 256h3v1h-3zM123 256h2v1h-2zM126 256h1v1h-1zM130 256h1v1h-1zM132 256h2v1h-2zM136 256h1v1h-1zM140 256h1v1h-1zM146 256h3v1h-3zM156 256h1v1h-1zM164 256h1v1h-1zM180 256h1v1h-1zM186 256h1v1h-1zM193 256h1v1h-1zM198 256h1v1h-1zM201 256h2v1h-2zM204 256h1v1h-1zM208 256h1v1h-1zM210 256h2v1h-2zM214 256h2v1h-2zM218 256h1v1h-1zM220 256h1v1h-1zM223 256h1v1h-1zM226 256h2v1h-2zM229 256h1v1h-1zM236 256h1v1h-1zM79 257h1v1h-1zM84 257h1v1h-1zM86 257h1v1h-1zM89 257h1v1h-1zM92 257h1v1h-1zM94 257h2v1h-2zM100 257h2v1h-2zM103 257h3v1h-3zM107 257h1v1h-1zM110 257h1v1h-1zM112 257h3v1h-3zM117 257h2v1h-2zM120 257h1v1h-1zM123 257h2v1h-2zM127 257h2v1h-2zM131 257h1v1h-1zM133 257h1v1h-1zM135 257h1v1h-1zM146 257h1v1h-1zM153 257h1v1h-1zM161 257h2v1h-2zM174 257h1v1h-1zM183 257h2v1h-2zM186 257h1v1h-1zM188 257h1v1h-1zM202 257h2v1h-2zM208 257h1v1h-1zM211 257h1v1h-1zM215 257h1v1h-1zM220 257h1v1h-1zM225 257h1v1h-1zM227 257h3v1h-3zM231 257h1v1h-1zM75 258h1v1h-1zM77 258h1v1h-1zM80 258h1v1h-1zM87 258h1v1h-1zM89 258h1v1h-1zM92 258h2v1h-2zM95 258h2v1h-2zM98 258h1v1h-1zM104 258h5v1h-5zM111 258h2v1h-2zM116 258h3v1h-3zM120 258h1v1h-1zM123 258h2v1h-2zM130 258h1v1h-1zM148 258h1v1h-1zM155 258h1v1h-1zM160 258h1v1h-1zM166 258h2v1h-2zM177 258h1v1h-1zM184 258h1v1h-1zM188 258h1v1h-1zM192 258h1v1h-1zM196 258h1v1h-1zM203 258h1v1h-1zM207 258h2v1h-2zM214 258h1v1h-1zM216 258h1v1h-1zM222 258h2v1h-2zM68 259h1v1h-1zM77 259h1v1h-1zM88 259h1v1h-1zM92 259h1v1h-1zM95 259h2v1h-2zM102 259h2v1h-2zM112 259h1v1h-1zM117 259h1v1h-1zM119 259h1v1h-1zM121 259h3v1h-3zM126 259h1v1h-1zM128 259h1v1h-1zM138 259h1v1h-1zM152 259h1v1h-1zM156 259h1v1h-1zM190 259h1v1h-1zM201 259h1v1h-1zM204 259h1v1h-1zM206 259h1v1h-1zM213 259h2v1h-2zM217 259h1v1h-1zM223 259h1v1h-1zM229 259h1v1h-1zM232 259h1v1h-1zM69 260h1v1h-1zM81 260h1v1h-1zM88 260h1v1h-1zM90 260h1v1h-1zM92 260h1v1h-1zM94 260h2v1h-2zM101 260h1v1h-1zM105 260h5v1h-5zM115 260h1v1h-1zM119 260h1v1h-1zM122 260h1v1h-1zM132 260h1v1h-1zM134 260h1v1h-1zM137 260h1v1h-1zM140 260h2v1h-2zM144 260h1v1h-1zM154 260h2v1h-2zM158 260h2v1h-2zM162 260h3v1h-3zM172 260h1v1h-1zM174 260h1v1h-1zM191 260h1v1h-1zM200 260h2v1h-2zM203 260h1v1h-1zM206 260h1v1h-1zM208 260h1v1h-1zM213 260h1v1h-1zM219 260h1v1h-1zM222 260h1v1h-1zM224 260h1v1h-1zM226 260h2v1h-2zM234 260h1v1h-1zM79 261h1v1h-1zM82 261h2v1h-2zM89 261h1v1h-1zM92 261h1v1h-1zM95 261h1v1h-1zM99 261h1v1h-1zM102 261h2v1h-2zM107 261h1v1h-1zM109 261h3v1h-3zM118 261h1v1h-1zM120 261h1v1h-1zM122 261h1v1h-1zM126 261h1v1h-1zM133 261h1v1h-1zM140 261h1v1h-1zM145 261h1v1h-1zM150 261h1v1h-1zM158 261h1v1h-1zM160 261h1v1h-1zM164 261h1v1h-1zM168 261h1v1h-1zM172 261h1v1h-1zM175 261h1v1h-1zM181 261h1v1h-1zM183 261h1v1h-1zM197 261h1v1h-1zM199 261h1v1h-1zM201 261h1v1h-1zM206 261h1v1h-1zM217 261h2v1h-2zM224 261h1v1h-1zM226 261h1v1h-1zM233 261h1v1h-1zM70 262h2v1h-2zM79 262h1v1h-1zM86 262h1v1h-1zM88 262h1v1h-1zM90 262h1v1h-1zM93 262h2v1h-2zM107 262h1v1h-1zM112 262h1v1h-1zM116 262h1v1h-1zM120 262h1v1h-1zM128 262h1v1h-1zM132 262h1v1h-1zM134 262h1v1h-1zM136 262h1v1h-1zM138 262h1v1h-1zM141 262h1v1h-1zM145 262h1v1h-1zM151 262h1v1h-1zM156 262h1v1h-1zM163 262h1v1h-1zM165 262h1v1h-1zM167 262h1v1h-1zM182 262h1v1h-1zM188 262h1v1h-1zM192 262h1v1h-1zM199 262h1v1h-1zM206 262h1v1h-1zM209 262h3v1h-3zM213 262h1v1h-1zM219 262h1v1h-1zM232 262h1v1h-1zM69 263h1v1h-1zM80 263h2v1h-2zM91 263h4v1h-4zM96 263h1v1h-1zM99 263h1v1h-1zM102 263h1v1h-1zM104 263h6v1h-6zM113 263h2v1h-2zM121 263h2v1h-2zM125 263h2v1h-2zM128 263h1v1h-1zM131 263h2v1h-2zM135 263h1v1h-1zM152 263h1v1h-1zM155 263h1v1h-1zM192 263h1v1h-1zM194 263h1v1h-1zM203 263h1v1h-1zM205 263h1v1h-1zM209 263h1v1h-1zM213 263h1v1h-1zM215 263h1v1h-1zM220 263h2v1h-2zM226 263h2v1h-2zM101 264h3v1h-3zM108 264h1v1h-1zM111 264h1v1h-1zM118 264h2v1h-2zM123 264h1v1h-1zM127 264h1v1h-1zM132 264h1v1h-1zM139 264h1v1h-1zM141 264h3v1h-3zM146 264h2v1h-2zM155 264h1v1h-1zM182 264h3v1h-3zM186 264h1v1h-1zM194 264h1v1h-1zM196 264h1v1h-1zM199 264h1v1h-1zM209 264h1v1h-1zM213 264h2v1h-2zM220 264h1v1h-1zM232 264h2v1h-2zM102 265h1v1h-1zM104 265h1v1h-1zM107 265h3v1h-3zM113 265h1v1h-1zM117 265h1v1h-1zM119 265h1v1h-1zM124 265h2v1h-2zM129 265h4v1h-4zM137 265h1v1h-1zM139 265h1v1h-1zM143 265h1v1h-1zM151 265h1v1h-1zM155 265h2v1h-2zM186 265h3v1h-3zM197 265h1v1h-1zM202 265h1v1h-1zM205 265h2v1h-2zM208 265h1v1h-1zM212 265h1v1h-1zM215 265h2v1h-2zM219 265h2v1h-2zM222 265h1v1h-1zM224 265h2v1h-2zM229 265h1v1h-1zM231 265h1v1h-1zM70 266h1v1h-1zM82 266h1v1h-1zM94 266h1v1h-1zM98 266h1v1h-1zM100 266h3v1h-3zM111 266h3v1h-3zM119 266h2v1h-2zM133 266h1v1h-1zM135 266h1v1h-1zM137 266h1v1h-1zM140 266h2v1h-2zM145 266h1v1h-1zM148 266h1v1h-1zM153 266h1v1h-1zM165 266h1v1h-1zM172 266h2v1h-2zM190 266h1v1h-1zM207 266h1v1h-1zM214 266h1v1h-1zM217 266h1v1h-1zM219 266h1v1h-1zM221 266h1v1h-1zM224 266h1v1h-1zM229 266h1v1h-1zM231 266h1v1h-1zM239 266h1v1h-1zM78 267h1v1h-1zM91 267h1v1h-1zM93 267h1v1h-1zM99 267h1v1h-1zM101 267h1v1h-1zM106 267h1v1h-1zM110 267h1v1h-1zM114 267h1v1h-1zM117 267h1v1h-1zM123 267h1v1h-1zM126 267h1v1h-1zM132 267h2v1h-2zM145 267h1v1h-1zM156 267h1v1h-1zM193 267h1v1h-1zM195 267h1v1h-1zM205 267h1v1h-1zM207 267h1v1h-1zM212 267h1v1h-1zM214 267h1v1h-1zM222 267h2v1h-2zM226 267h1v1h-1zM228 267h1v1h-1z"/></g>
<g fill="#000">
<rect x="271.88" y="45.83" width="1072.92" height="3.12"/>
<rect x="271.88" y="45.83" width="6.25" height="1069.79"/>
<rect x="1338.54" y="45.83" width="6.25" height="1069.79"/>
<rect x="271.88" y="1109.38" width="1072.92" height="6.25"/>
<rect x="272.92" y="1112.5" width="4.17" height="14.58"/>
<rect x="260.42" y="1110.42" width="14.58" height="4.17"/>
<rect x="297.92" y="1112.5" width="4.17" height="14.58"/>
<rect x="260.42" y="1085.42" width="14.58" height="4.17"/>
<rect x="318.75" y="1112.5" width="4.17" height="22.92"/>
<rect x="252.08" y="1064.58" width="22.92" height="4.17"/>
<rect x="335.42" y="1112.5" width="4.17" height="14.58"/>
<rect x="260.42" y="1047.92" width="14.58" height="4.17"/>
<rect x="352.08" y="1112.5" width="4.17" height="14.58"/>
<rect x="260.42" y="1031.25" width="14.58" height="4.17"/>
<rect x="364.58" y="1112.5" width="4.17" height="14.58"/>
<rect x="260.42" y="1018.75" width="14.58" height="4.17"/>
<rect x="372.92" y="1112.5" width="4.17" height="14.58"/>
<rect x="260.42" y="1010.42" width="14.58" height="4.17"/>
<rect x="385.42" y="1112.5" width="4.17" height="31.25"/>
<rect x="243.75" y="997.92" width="31.25" height="4.17"/>
<rect x="447.92" y="1112.5" width="4.17" height="14.58"/>
<rect x="260.42" y="935.42" width="14.58" height="4.17"/>
<rect x="485.42" y="1112.5" width="4.17" height="14.58"/>
<rect x="260.42" y="897.92" width="14.58" height="4.17"/>
<rect x="510.42" y="1112.5" width="4.17" height="14.58"/>
<rect x="260.42" y="872.92" width="14.58" height="4.17"/>
<rect x="531.25" y="1112.5" width="4.17" height="22.92"/>
<rect x="252.08" y="852.08" width="22.92" height="4.17"/>
<rect x="547.92" y="1112.5" width="4.17" height="14.58"/>
<rect x="260.42" y="835.42" width="14.58" height="4.17"/>
<rect x="564.58" y="1112.5" width="4.17" height="14.58"/>
<rect x="260.42" y="818.75" width="14.58" height="4.17"/>
<rect x="577.08" y="1112.5" width="4.17" height="14.58"/>
<rect x="260.42" y="806.25" width="14.58" height="4.17"/>
<rect x="585.42" y="1112.5" width="4.17" height="14.58"/>
<rect x="260.42" y="797.92" width="14.58" height="4.17"/>
<rect x="597.92" y="1112.5" width="4.17" height="31.25"/>
<rect x="243.75" y="785.42" width="31.25" height="4.17"/>
<rect x="660.42" y="1112.5" width="4.17" height="14.58"/>
<rect x="260.42" y="722.92" width="14.58" height="4.17"/>
<rect x="697.92" y="1112.5" width="4.17" height="14.58"/>
<rect x="260.42" y="685.42" width="14.58" height="4.17"/>
<rect x="722.92" y="1112.5" width="4.17" height="14.58"/>
<rect x="260.42" y="660.42" width="14.58" height="4.17"/>
<rect x="743.75" y="1112.5" width="4.17" height="22.92"/>
<rect x="252.08" y="639.58" width="22.92" height="4.17"/>
<rect x="760.42" y="1112.5" width="4.17" height="14.58"/>
<rect x="260.42" y="622.92" width="14.58" height="4.17"/>
<rect x="777.08" y="1112.5" width="4.17" height="14.58"/>
<rect x="260.42" y="606.25" width="14.58" height="4.17"/>
<rect x="789.58" y="1112.5" width="4.17" height="14.58"/>
<rect x="260.42" y="593.75" width="14.58" height="4.17"/>
<rect x="797.92" y="1112.5" width="4.17" height="14.58"/>
<rect x="260.42" y="585.42" width="14.58" height="4.17"/>
<rect x="810.42" y="1112.5" width="4.17" height="31.25"/>
<rect x="243.75" y="572.92" width="31.25" height="4.17"/>
<rect x="872.92" y="1112.5" width="4.17" height="14.58"/>
<rect x="260.42" y="510.42" width="14.58" height="4.17"/>
<rect x="910.42" y="1112.5" width="4.17" height="14.58"/>
<rect x="260.42" y="472.92" width="14.58" height="4.17"/>
<rect x="935.42" y="1112.5" width="4.17" height="14.58"/>
<rect x="260.42" y="447.92" width="14.58" height="4.17"/>
<rect x="956.25" y="1112.5" width="4.17" height="22.92"/>
<rect x="252.08" y="427.08" width="22.92" height="4.17"/>
<rect x="972.92" y="1112.5" width="4.17" height="14.58"/>
<rect x="260.42" y="410.42" width="14.58" height="4.17"/>
<rect x="989.58" y="1112.5" width="4.17" height="14.58"/>
<rect x="260.42" y="393.75" width="14.58" height="4.17"/>
<rect x="1002.08" y="1112.5" width="4.17" height="14.58"/>
<rect x="260.42" y="381.25" width="14.58" height="4.17"/>
<rect x="1010.42" y="1112.5" width="4.17" height="14.58"/>
<rect x="260.42" y="372.92" width="14.58" height="4.17"/>
<rect x="1022.92" y="1112.5" width="4.17" height="31.25"/>
<rect x="243.75" y="360.42" width="31.25" height="4.17"/>
<rect x="1085.42" y="1112.5" width="4.17" height="14.58"/>
<rect x="260.42" y="297.92" width="14.58" height="4.17"/>
<rect x="1122.92" y="1112.5" width="4.17" height="14.58"/>
<rect x="260.42" y="260.42" width="14.58" height="4.17"/>
<rect x="1147.92" y="1112.5" width="4.17" height="14.58"/>
<rect x="260.42" y="235.42" width="14.58" height="4.17"/>
<rect x="1168.75" y="1112.5" width="4.17" height="22.92"/>
<rect x="252.08" y="214.58" width="22.92" height="4.17"/>
<rect x="1185.42" y="1112.5" width="4.17" height="14.58"/>
<rect x="260.42" y="197.92" width="14.58" height="4.17"/>
<rect x="1202.08" y="1112.5" width="4.17" height="14.58"/>
<rect x="260.42" y="181.25" width="14.58" height="4.17"/>
<rect x="1214.58" y="1112.5" width="4.17" height="14.58"/>
<rect x="260.42" y="168.75" width="14.58" height="4.17"/>
<rect x="1222.92" y="1112.5" width="4.17" height="14.58"/>
<rect x="260.42" y="160.42" width="14.58" height="4.17"/>
<rect x="1235.42" y="1112.5" width="4.17" height="31.25"/>
<rect x="243.75" y="147.92" width="31.25" height="4.17"/>
<rect x="1297.92" y="1112.5" width="4.17" height="14.58"/>
<rect x="260.42" y="85.42" width="14.58" height="4.17"/>
<rect x="1335.42" y="1112.5" width="4.17" height="14.58"/>
<rect x="260.42" y="47.92" width="14.58" height="4.17"/>
<rect x="607.29" y="48.96" width="2.08" height="1060.42"/>
<rect x="278.12" y="823.96" width="1060.42" height="2.08"/>
</g>
<g class="tl">
<text x="366.3" y="1220.8">10</text>
<text x="420.6" y="1183.1">2</text>
<text x="145.4" y="1020.8">10</text>
<text x="204.2" y="983.2">2</text>
<text x="578.8" y="1220.8">10</text>
<text x="633.1" y="1183.1">3</text>
<text x="145.4" y="808.3">10</text>
<text x="204.2" y="770.7">3</text>
<text x="791.3" y="1220.8">10</text>
<text x="845.6" y="1183.1">4</text>
<text x="145.4" y="595.8">10</text>
<text x="204.2" y="558.2">4</text>
<text x="1003.8" y="1220.8">10</text>
<text x="1058.1" y="1183.1">5</text>
<text x="145.4" y="383.3">10</text>
<text x="204.2" y="345.7">5</text>
<text x="1216.3" y="1220.8">10</text>
<text x="1270.6" y="1183.1">6</text>
<text x="145.4" y="170.8">10</text>
<text x="204.2" y="133.2">6</text>
</g>
<text class="xt" x="818.3" y="1316.6" text-anchor="middle">APC CD45RO</text>
<text class="yt" transform="translate(99.9 986.8) rotate(-90)" textLength="721.5" lengthAdjust="spacingAndGlyphs">BD Horizon<tspan dy="-18" font-size="35">TM</tspan><tspan dy="18"> BV421 CD123</tspan></text>
</svg>
</body>
</html>
